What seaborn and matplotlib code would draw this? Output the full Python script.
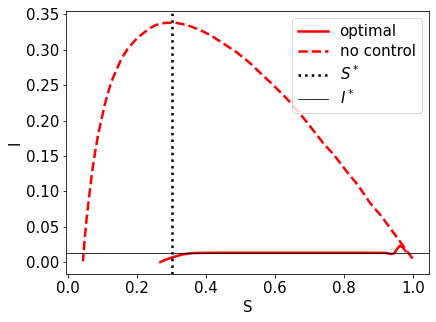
import seaborn as sns
from matplotlib import pyplot as plt
import pandas as pd

# no control trajectory
S_nc = [0.999, 0.970, 0.943, 0.910, 0.875, 0.840, 0.808, 0.770, 0.740, 0.700,
        0.672, 0.634, 0.595, 0.560, 0.528, 0.490, 0.450, 0.415, 0.383, 0.345,
        0.310, 0.280, 0.253, 0.235, 0.216, 0.195, 0.173, 0.155, 0.139, 0.125,
        0.115, 0.105, 0.096, 0.087, 0.079, 0.071, 0.064, 0.058, 0.052, 0.047,
        0.0426]
I_nc = [0.005, 0.024, 0.042, 0.064, 0.084, 0.109, 0.128, 0.152, 0.168, 0.193,
        0.210, 0.231, 0.250, 0.266, 0.281, 0.296, 0.309, 0.320, 0.328, 0.335,
        0.3385, 0.338, 0.335, 0.330, 0.323, 0.314, 0.302, 0.288, 0.271, 0.255,
        0.239, 0.221, 0.201, 0.181, 0.159, 0.134, 0.107, 0.082, 0.056, 0.029,
        0.001]

# optimal control trajectory
S_opt = [0.978, 0.970, 0.962, 0.955, 0.946, 0.938, 0.920, 0.850, 0.700, 0.550,
         0.460, 0.400, 0.375, 0.355, 0.334, 0.315, 0.296, 0.280, 0.267]
I_opt = [0.016, 0.021, 0.023, 0.019, 0.0125, 0.0113, 0.0130, 0.0132, 0.0132, 0.0132,
         0.0132, 0.0131, 0.0129, 0.0124, 0.011, 0.0085, 0.0056, 0.0028, 0.000]

S_star = 0.3
I_star = 0.013

nc_df = pd.DataFrame({"S": S_nc, "I": I_nc})
opt_df = pd.DataFrame({"S": S_opt, "I": I_opt})

plt.rcParams["font.family"] = "DejaVu Sans"
fig, ax = plt.subplots(figsize=(436 / 72, 322 / 72), dpi=72)
fig.subplots_adjust(left=0.1525, right=0.984, top=0.967, bottom=0.149)

sns.lineplot(x="S", y="I", data=opt_df, sort=False, estimator=None, color="red",
             lw=2.5, label="optimal", ax=ax)
sns.lineplot(x="S", y="I", data=nc_df, sort=False, estimator=None, color="red",
             lw=2.5, linestyle="--", label="no control", ax=ax)
ax.axvline(S_star, color="black", linestyle=":", lw=2.5, label="$S^*$")
ax.axhline(I_star, color="black", lw=0.8, label="$I^*$")

ax.set_xlabel("S", fontsize=15)
ax.set_ylabel("I", fontsize=15)
ax.set_xticks([0.0, 0.2, 0.4, 0.6, 0.8, 1.0])
ax.set_yticks([0.00, 0.05, 0.10, 0.15, 0.20, 0.25, 0.30, 0.35])
ax.tick_params(labelsize=15)
ax.legend(loc="upper right", fontsize=15, labelspacing=0.35)

plt.savefig("out.png", dpi=72)
